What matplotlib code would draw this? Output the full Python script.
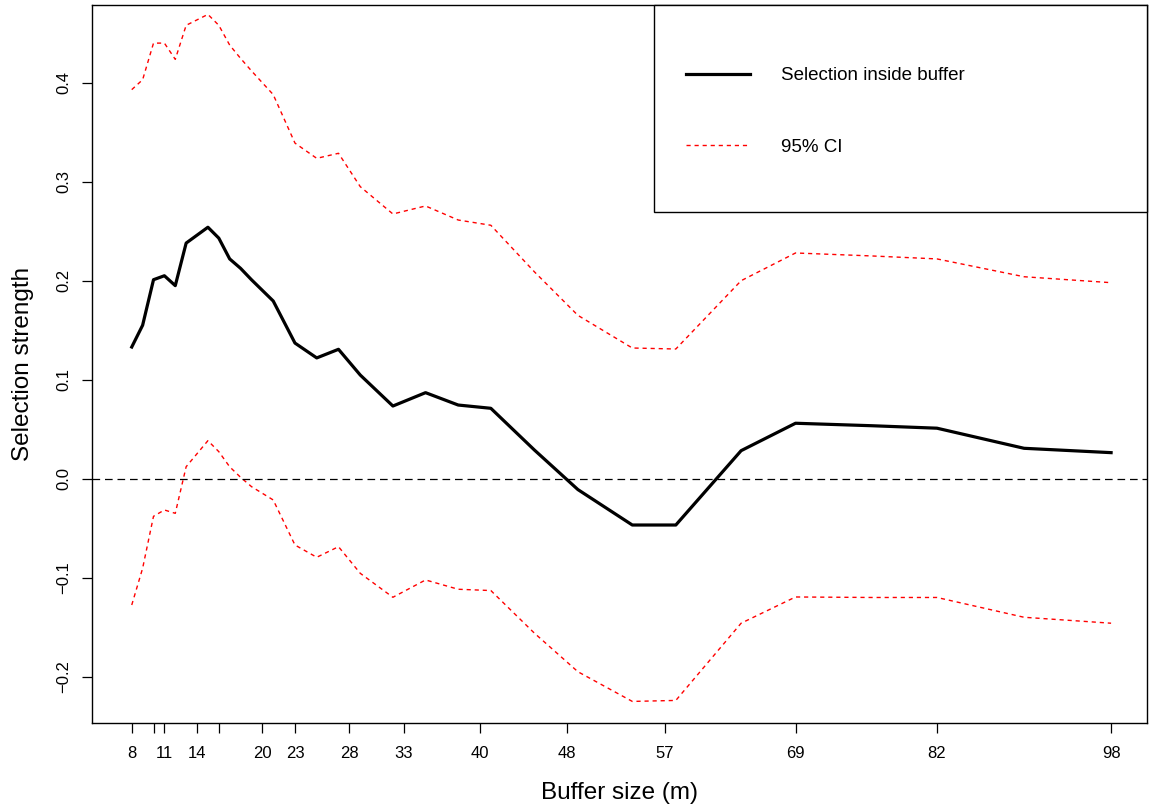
import matplotlib
matplotlib.use("Agg")
import matplotlib.pyplot as plt
from matplotlib.patches import Rectangle
from matplotlib.lines import Line2D

plt.rcParams['font.family'] = ['Liberation Sans', 'DejaVu Sans']
plt.rcParams['lines.scale_dashes'] = False

# Buffer sizes (m)
buffer_size = [8, 9, 10, 11, 12, 13, 15, 16, 17, 18, 19, 21, 23, 25, 27, 29, 32, 35,
               38, 41, 45, 49, 54, 58, 64, 69, 76, 82, 90, 98]
# Selection strength estimate
selection = [0.133, 0.155, 0.201, 0.205, 0.195, 0.238, 0.254, 0.243, 0.222, 0.2125,
             0.201, 0.1795, 0.137, 0.122, 0.1307, 0.1047, 0.0734, 0.0869, 0.0744, 0.0711,
             0.029, -0.011, -0.0468, -0.0468, 0.0283, 0.056, 0.0535, 0.051, 0.0307, 0.0263]
# Upper 95% CI
ci_upper = [0.393, 0.403, 0.44, 0.44, 0.4236, 0.458, 0.469, 0.458, 0.438, 0.4246,
            0.412, 0.388, 0.339, 0.3236, 0.3287, 0.295, 0.2674, 0.2755, 0.2613, 0.256,
            0.209, 0.165, 0.132, 0.131, 0.2, 0.228, 0.225, 0.222, 0.204, 0.198]
# Lower 95% CI
ci_lower = [-0.1276, -0.0905, -0.038, -0.0316, -0.035, 0.0121, 0.0384, 0.0273, 0.012, 0.0014,
            -0.008, -0.0215, -0.067, -0.0794, -0.0687, -0.0956, -0.1198, -0.1023, -0.1117, -0.113,
            -0.156, -0.195, -0.225, -0.224, -0.146, -0.1195, -0.12, -0.12, -0.14, -0.146]

x_ticks = [8, 10, 11, 14, 16, 20, 23, 28, 33, 40, 48, 57, 69, 82, 98]
x_tick_labels = ['8', '', '11', '14', '', '20', '23', '28', '33', '40', '48', '57', '69', '82', '98']
y_ticks = [-0.2, -0.1, 0.0, 0.1, 0.2, 0.3, 0.4]

W, H = 1149, 809
fig = plt.figure(figsize=(W / 100, H / 100), dpi=100)
ax = fig.add_axes([91.7 / W, 1 - 722.7 / H, (1147 - 91.7) / W, (722.7 - 5) / H])

red_dash = (0, (3.0, 2.8))
ax.plot(buffer_size, selection, color='black', lw=2.3, solid_joinstyle='round')
ax.plot(buffer_size, ci_upper, color='red', lw=1.0, ls=red_dash)
ax.plot(buffer_size, ci_lower, color='red', lw=1.0, ls=red_dash)
ax.axhline(0, color='black', lw=0.9, ls=(0, (5.5, 3.5)))

ax.set_xlim(4.32, 101.3)
ax.set_ylim(-0.2465, 0.4785)

ax.set_xticks(x_ticks)
ax.set_xticklabels(x_tick_labels)
ax.set_yticks(y_ticks)
ax.set_yticklabels([f"{v:.1f}".replace('-', '\u2212') for v in y_ticks])
ax.tick_params(axis='both', direction='out', length=7.2, width=0.9, labelsize=12, pad=7.5)
ax.tick_params(axis='x', pad=9.5)
ax.tick_params(axis='y', labelrotation=90)
for lab in ax.get_yticklabels():
    lab.set_va('center')

for s in ax.spines.values():
    s.set_linewidth(1.0)
    s.set_color('black')

ax.set_xlabel('Buffer size (m)', fontsize=17.5, labelpad=15)
ax.set_ylabel('Selection strength', fontsize=17.5, labelpad=16)

# Legend box
rect = Rectangle((654 / W, 1 - 212 / H), (1147 - 654) / W, 207 / H, transform=fig.transFigure,
                 facecolor='white', edgecolor='black', lw=1.0, zorder=5)
fig.patches.append(rect)
handles = [Line2D([], [], color='black', lw=2.3),
           Line2D([], [], color='red', lw=1.0, ls=red_dash)]
leg = fig.legend(handles, ['Selection inside buffer', '95% CI'], loc='upper left',
                 bbox_to_anchor=(686 / W, 1 - 67 / H), bbox_transform=fig.transFigure,
                 frameon=False, borderpad=0, borderaxespad=0, fontsize=13.5,
                 handlelength=3.4, handletextpad=1.65, labelspacing=2.92)
leg.set_zorder(6)

fig.savefig('out.png', dpi=100)
